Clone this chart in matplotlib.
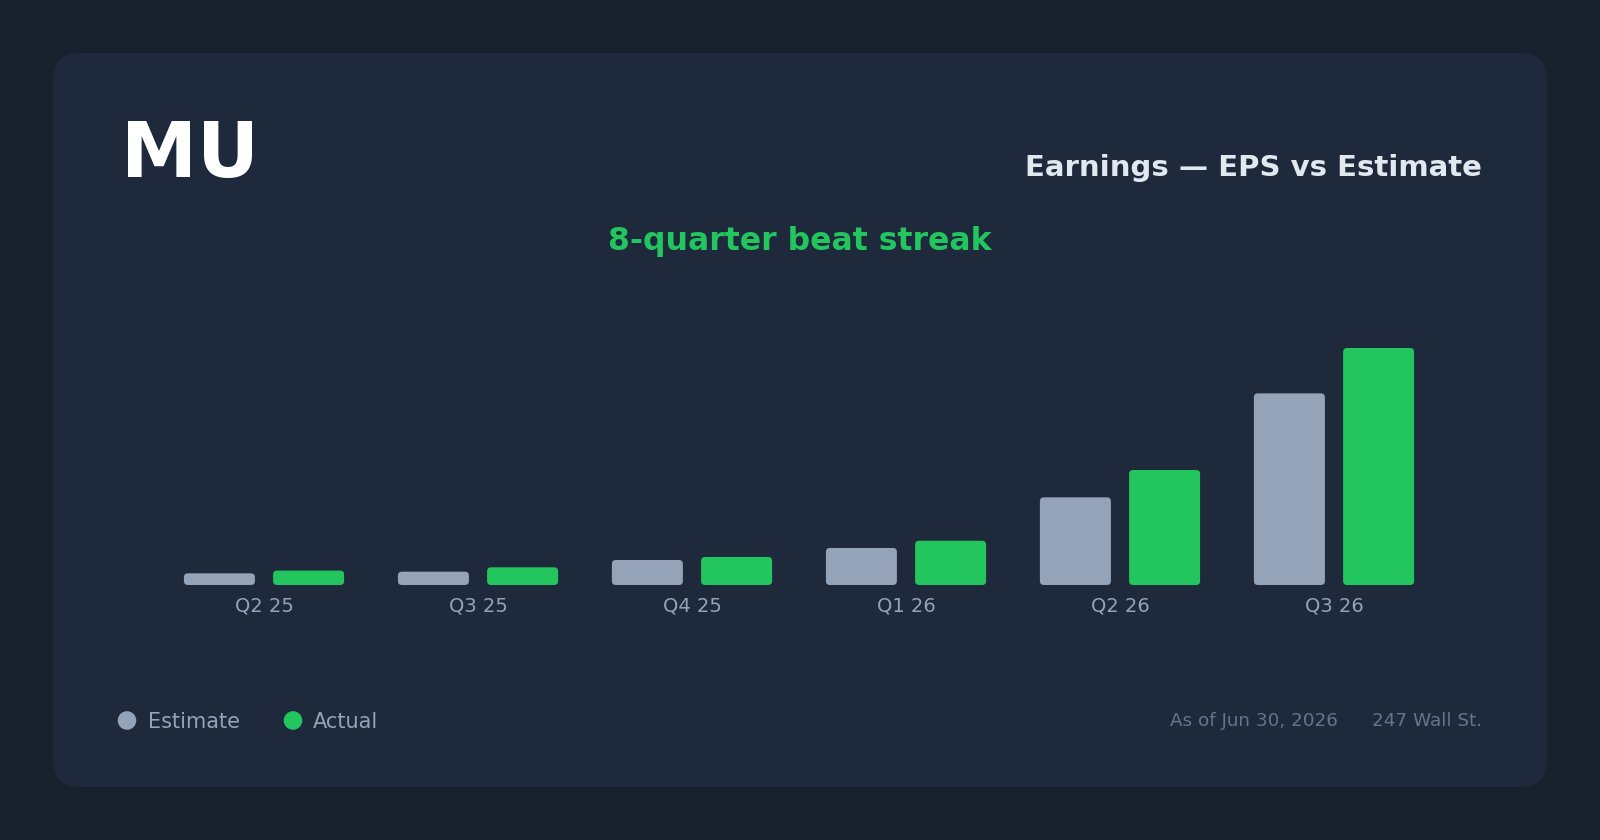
"""Earnings card for MU: EPS actual vs consensus estimate by quarter."""

import matplotlib

matplotlib.use("Agg")
import matplotlib.pyplot as plt
from matplotlib.patches import Circle, FancyBboxPatch

# Data.
quarters = ["Q2 25", "Q3 25", "Q4 25", "Q1 26", "Q2 26", "Q3 26"]
estimate = [1.26, 1.44, 2.70, 4.00, 9.47, 20.70]
actual = [1.56, 1.91, 3.03, 4.78, 12.42, 25.60]

ticker = "MU"
title = "Earnings \u2014 EPS vs Estimate"
subtitle = "8-quarter beat streak"
series_names = ["Estimate", "Actual"]
as_of = "As of Jun 30, 2026"
source = "247 Wall St."

# Colours
OUTER_BG = "#19212f"
CARD_BG = "#1e293b"
EST_COLOR = "#94a3b8"
ACT_COLOR = "#22c55e"
TITLE_COLOR = "#e2e8f0"
MUTED = "#94a3b8"
FOOTER = "#64748b"

W, H = 1600, 840
fig = plt.figure(figsize=(W / 100, H / 100), dpi=100, facecolor=OUTER_BG)
plt.rcParams["font.family"] = ["DejaVu Sans"]

# Background axes in pixel coordinates (y grows downward).
bg = fig.add_axes([0, 0, 1, 1])
bg.set_xlim(0, W)
bg.set_ylim(H, 0)
bg.axis("off")
bg.add_patch(FancyBboxPatch(
    (53, 53), W - 106, H - 106,
    boxstyle="round,pad=0,rounding_size=28",
    facecolor=CARD_BG, edgecolor="none",
))

bg.text(121, 177, ticker, fontsize=55, fontweight="bold", color="white",
        ha="left", va="baseline")
bg.text(1482, 176, title, fontsize=21, fontweight="bold", color=TITLE_COLOR,
        ha="right", va="baseline")
bg.text(800, 250, subtitle, fontsize=22.7, fontweight="bold", color=ACT_COLOR,
        ha="center", va="baseline")

# Legend
for cx, tx, name, col in [(127, 148, series_names[0], EST_COLOR),
                          (293, 313, series_names[1], ACT_COLOR)]:
    bg.add_patch(Circle((cx, 720.5), 9.3, facecolor=col, edgecolor="none"))
    bg.text(tx, 728, name, fontsize=15, color=MUTED, ha="left", va="baseline")

# Footer
bg.text(1482, 726.5, source, fontsize=13.2, color=FOOTER, ha="right",
        va="baseline")
bg.text(1338, 726.5, as_of, fontsize=13.2, color=FOOTER, ha="right",
        va="baseline")

# Bar chart axes: baseline at y=585 px, group spacing 214 px.
base_px, group_px = 585, 214
ymax = max(actual) * 1.2
ax_h_px = 237 * 1.2
left_px = 264 - group_px / 2
ax = fig.add_axes([left_px / W, (H - base_px) / H,
                   group_px * len(quarters) / W, ax_h_px / H])
ax.set_facecolor("none")
ax.set_xlim(-0.5, len(quarters) - 0.5)
ax.set_ylim(0, ymax)
for side in ax.spines.values():
    side.set_visible(False)
ax.set_yticks([])
ax.set_xticks(range(len(quarters)))
ax.set_xticklabels(quarters, fontsize=14, color=MUTED)
ax.tick_params(axis="x", length=0, pad=8)

bar_w = 71 / group_px
offset = 44.6 / group_px
radius = 4 / group_px
# y units per x unit, so the corner radius is round on screen
aspect = (ymax / ax_h_px) / (1 / group_px)

for i, (e, a) in enumerate(zip(estimate, actual)):
    for x, h, col in [(i - offset, e, EST_COLOR), (i + offset, a, ACT_COLOR)]:
        ax.add_patch(FancyBboxPatch(
            (x - bar_w / 2, 0), bar_w, h,
            boxstyle=f"round,pad=0,rounding_size={radius}",
            mutation_aspect=aspect,
            facecolor=col, edgecolor="none",
        ))

fig.savefig("out.png", dpi=100, facecolor=OUTER_BG)
